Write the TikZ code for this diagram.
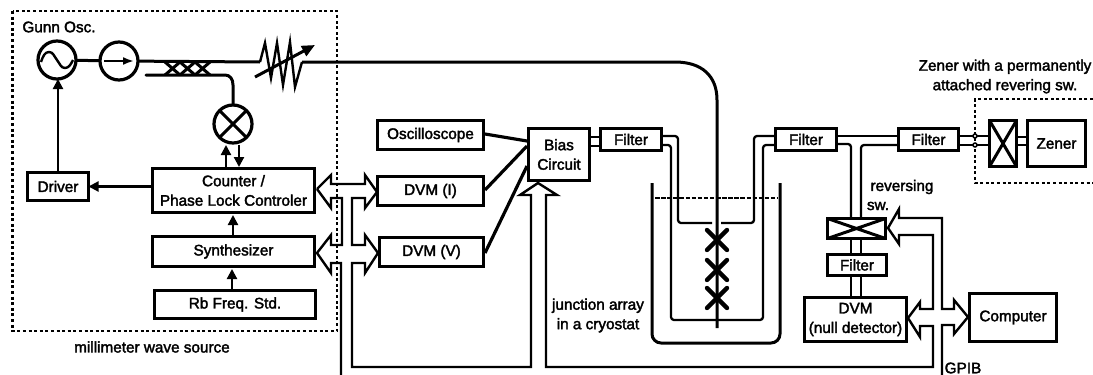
\documentclass[tikz,border=0pt]{standalone}
\usepackage{fontspec}
\setmainfont[AutoFakeBold=2.2]{Liberation Sans}
\usetikzlibrary{arrows.meta,shapes.geometric}
\newcommand{\lbl}{\fontsize{15.3}{19.5}\selectfont\bfseries}
\tikzset{
  x=1pt,y=-1pt,
  every node/.style={font=\lbl,text=black,inner sep=0pt,outer sep=0pt},
  box/.style={draw,line width=3.4pt,align=center},
  thinbox/.style={draw,line width=2.8pt,align=center},
  wire/.style={line width=2.3pt,line join=round,rounded corners=3pt},
  heavy/.style={line width=3pt,line join=round},
  arr/.style={line width=2.1pt,-{Triangle[length=10pt,width=10pt]}},
  hollow/.style={line width=2.4pt,line join=miter},
  dotbox/.style={line width=2.4pt,dash pattern=on 3pt off 2.6pt},
  ring/.style={circle,draw,line width=3.2pt,minimum size=38pt},
  jct/.style={line width=4.4pt,line cap=round},
  lab/.style={anchor=center,align=center}
}
\newcommand{\bx}[7][box]{\node[#1,minimum width=#5-#3-3pt,minimum height=#6-#4-3pt] (#2) at ({(#3+#5)/2},{(#4+#6)/2}) {#7};}
\begin{document}
\begin{tikzpicture}
\useasboundingbox (0,0) rectangle (1093,375);
% dotted enclosures
\draw[dotbox] (12.5,11) rectangle (337,331);
\draw[dotbox] (1093,99) -- (975,99) -- (975,183) -- (1093,183);
% boxes
\bx{driver}{26}{171}{90}{202}{Driver}
\bx{ctr}{151}{167}{316}{214}{Counter /\\Phase Lock Controler}
\bx{syn}{151}{235}{316}{268}{Synthesizer}
\bx{rb}{153}{289}{317}{320}{Rb Freq. Std.}
\bx{osc}{376}{119}{485}{151}{Oscilloscope}
\bx{dvmi}{376}{175}{485}{207}{DVM (I)}
\bx{dvmv}{378}{236}{485}{268}{DVM (V)}
\bx[thinbox]{bias}{527}{127}{591}{182}{Bias\\Circuit}
\bx{fa}{599}{127}{663}{152}{Filter}
\bx{fb}{774}{127}{838}{152}{Filter}
\bx{fc}{897}{127}{960}{152}{Filter}
\bx{rsw}{826}{217}{887}{240}{}
\bx{fd}{826}{253}{888}{277}{Filter}
\bx{null}{803}{296}{908}{343}{DVM\\(null detector)}
\bx{comp}{968}{292}{1058}{343}{Computer}
\bx{sw}{988}{119}{1018}{168}{}
\bx{zen}{1026}{119}{1087}{168}{Zener}
\draw[line width=3pt] (rsw.north west) -- (rsw.south east) (rsw.south west) -- (rsw.north east);
\draw[line width=3pt] (sw.north west) -- (sw.south east) (sw.south west) -- (sw.north east);
% circles
\node[ring] (gunn) at (57,60) {};
\node[ring] (iso) at (119,61) {};
\node[ring] (mix) at (233,124) {};
\draw[line width=3pt] (mix.45) -- (mix.225) (mix.135) -- (mix.315);
\draw[line width=2.4pt] ([shift={(-16,2)}]gunn.center) .. controls +(2,-6) and +(-4,0) .. ([shift={(-8,-8)}]gunn.center) .. controls +(4,0) and +(-3,-4) .. (gunn.center) .. controls +(3,4) and +(-4,0) .. ([shift={(8,8)}]gunn.center) .. controls +(4,0) and +(-2,4) .. ([shift={(16,0)}]gunn.center);
\draw[line width=2pt,-{Latex[length=11pt,width=8pt]}] ([xshift=-15pt]iso.center) -- ([xshift=15pt]iso.center);
% waveguide
\coordinate (cplL) at (146,75);
\coordinate (atL) at (260,62);
\coordinate (atR) at (302,62);
\coordinate (wgEnd) at (717,328);
\draw[heavy] (gunn) -- (iso);
\draw[heavy] (iso) -- (atL);
\draw[heavy,line cap=round] (cplL) -- (225,75) .. controls (230,75) and (233,79) .. (233,85) -- (mix);
\foreach \q in {165,180,195}{
  \draw[line width=3pt] (\q,62) -- (\q+15,75) (\q,75) -- (\q+15,62);
}
\draw[line width=2.4pt,line join=miter] (atL) -- (265,43) -- (271,78) -- (277,43) -- (283,85) -- (290,42) -- (295,87) -- (atR);
\draw[line width=3pt,-{Triangle[length=13pt,width=11pt]}] (255,77) -- (315,45);
\draw[heavy] (atR) -- (675,62) .. controls (702,62) and (717,76) .. (717,100) -- (wgEnd);
% simple arrows
\draw[arr] (driver.north) -- (driver.north |- gunn.south);
\draw[arr] (ctr.west |- driver.east) -- (driver.east);
\draw[arr] (226,167) -- (226,145);
\draw[arr] (239,145) -- (239,167);
\draw[arr] (233,235) -- (233,215);
\draw[arr] (232,289) -- (232,269);
% bias connections
\draw[line width=3.2pt] (485,134) -- (527,141);
\draw[line width=3.2pt] (485,190) -- (527,146);
\draw[line width=3.2pt] (485,253) -- (527,166);
\draw[line width=2pt] (591,137) -- (599,137) (591,146) -- (599,146);
% filter wiring
\draw[wire] (fa.east |- 0,136) -- (678,136) -- (678,223) -- (712,223);
\draw[wire] (721,223) -- (754,223) -- (754,136) -- (fb.west |- 0,136);
\draw[wire] (fa.east |- 0,145) -- (671,145) -- (671,320) -- (763,320) -- (763,145) -- (fb.west |- 0,145);
\draw[wire] (fb.east |- 0,136) -- (fc.west |- 0,136);
\draw[wire] (fb.east |- 0,144) -- (851,144) -- (851,217);
\draw[wire] (fc.west |- 0,145) -- (861,145) -- (861,217);
\draw[line width=2pt] (851,240) -- (851,253) (861,240) -- (861,253);
\draw[line width=2pt] (851,277) -- (851,296) (861,277) -- (861,296);
\draw[line width=2.2pt] (fc.east |- 0,136) -- (sw.west |- 0,136) (fc.east |- 0,145) -- (sw.west |- 0,145);
\draw[line width=2pt] (sw.east |- 0,137) -- (zen.west |- 0,137) (sw.east |- 0,145) -- (zen.west |- 0,145);
\node[circle,draw,fill=white,line width=1.5pt,minimum size=4pt] (ca) at (975,136) {};
\node[circle,draw,fill=white,line width=1.5pt,minimum size=4pt] (cb) at (975,145) {};
% cryostat
\draw[line width=3pt,rounded corners=9pt] (652,183) -- (652,343) -- (780,343) -- (780,183);
\draw[line width=2.8pt,dash pattern=on 4.5pt off 1.6pt] (655,198) -- (778,198);
\foreach \q in {240,270,298}{
  \draw[jct] (707,\q-10) -- (727,\q+10) (707,\q+10) -- (727,\q-10);
}
% hollow buses
\coordinate (ctrP) at (317,189);
\coordinate (synP) at (317,253);
\coordinate (iP) at (377,192);
\coordinate (vP) at (378,253);
\coordinate (bP) at (538,183);
\coordinate (nP) at (908,318);
\coordinate (sP) at (888,228);
\coordinate (cP) at (968,317);
\draw[hollow] (ctrP) -- (331,175) -- (331,184) -- (365,184) -- (365,175) -- (iP) -- (365,208) -- (365,198) -- (352,198) -- (352,245) -- (365,245) -- (365,235) -- (vP) -- (365,273) -- (365,263) -- (352,263) -- (352,367) -- (531,367) -- (531,195) -- (520,195) -- (bP) -- (557,195) -- (546,195) -- (546,367) -- (933,367) -- (933,326) -- (920,326) -- (920,337) -- (nP) -- (920,302) -- (920,309) -- (933,309) -- (933,235) -- (899,235) -- (899,244) -- (sP) -- (899,209) -- (899,218) -- (942,218) -- (942,309) -- (954,309) -- (954,300) -- (cP) -- (954,334) -- (954,325) -- (942,325) -- (942,375);
\draw[hollow] (ctrP) -- (331,208) -- (331,198) -- (342,198) -- (342,245) -- (331,245) -- (331,235) -- (synP) -- (331,273) -- (331,263) -- (341,263) -- (341,375);
% labels
\node[lab] (l1) at (59,27) {Gunn Osc.};
\node[lab] (l2) at (152,347) {millimeter wave source};
\node[lab] (l3) at (598,315.5) {junction array\\in a cryostat};
\node[lab] (l4) at (1005,76.5) {Zener with a permanently\\attached revering sw.};
\node[lab] (l5) at (902,187) {reversing};
\node[lab] (l6) at (878,206) {sw.};
\node[lab] (l7) at (963,368) {GPIB};
\end{tikzpicture}
\end{document}
